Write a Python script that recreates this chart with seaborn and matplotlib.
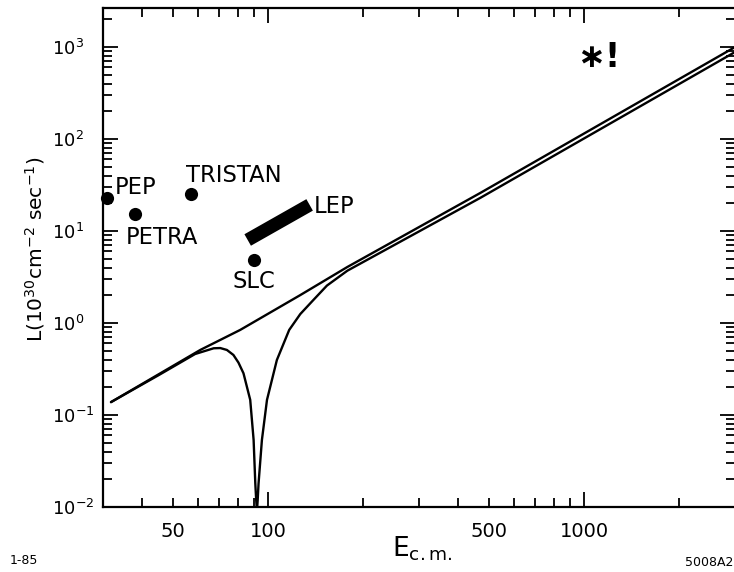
import numpy as np
import pandas as pd
import matplotlib
matplotlib.use("Agg")
import matplotlib.pyplot as plt
import seaborn as sns
from matplotlib.ticker import NullFormatter

# ---------------- data ----------------
E_upper = [31.8, 61, 81.5, 126, 178, 469, 2966]
L_upper = [0.138, 0.51, 0.84, 2.0, 4.06, 25.9, 975]

E_lower = [31.8, 45, 58.7, 67.2, 70.5, 74.0, 77.6, 80.5, 83.5, 87.7, 89.9, 91.0,
           91.6, 92.1, 92.6, 93.2, 95.5, 99.1, 106.5, 116.5, 126.3, 139, 153.4,
           178, 469, 2966]
L_lower = [0.138, 0.271, 0.46, 0.531, 0.534, 0.509, 0.449, 0.371, 0.284, 0.146,
           0.0535, 0.0182, 0.0119, 0.009, 0.0119, 0.0181, 0.0535, 0.146, 0.396,
           0.84, 1.25, 1.78, 2.55, 3.7, 22.9, 861]

machines = ["PEP", "PETRA", "TRISTAN", "SLC"]
E_machines = [30.9, 37.9, 56.9, 89.9]
L_machines = [22.9, 15.1, 25.2, 4.84]

E_lep = [86.1, 135.2]
L_lep = [7.98, 19.2]

x_major = [100, 1000]
x_major_labels = ["100", "1000"]
x_minor = [40, 50, 60, 70, 80, 90, 200, 300, 400, 500, 600, 700, 800, 900, 2000, 3000]
x_minor_labels = ["", "50", "", "", "", "", "", "", "", "500", "", "", "", "", "", ""]

y_major = [1e-2, 1e-1, 1e0, 1e1, 1e2, 1e3]
y_major_labels = [r"$\mathregular{10^{-2}}$", r"$\mathregular{10^{-1}}$",
                  r"$\mathregular{10^{0}}$", r"$\mathregular{10^{1}}$",
                  r"$\mathregular{10^{2}}$", r"$\mathregular{10^{3}}$"]

# label anchor positions (data coords)
label_E = {"PEP": 32.8, "PETRA": 35.3, "TRISTAN": 55.0, "SLC": 77.0, "LEP": 139.8}
label_L = {"PEP": 25.2, "PETRA": 7.22, "TRISTAN": 34.1, "SLC": 2.40, "LEP": 15.7}

# ---------------- style ----------------
sns.set_style("ticks", rc={"axes.edgecolor": "black", "text.color": "black",
                           "xtick.color": "black", "ytick.color": "black",
                           "axes.labelcolor": "black"})
plt.rcParams["font.family"] = ["DejaVu Sans"]
plt.rcParams["mathtext.default"] = "regular"

fig = plt.figure(figsize=(7.34, 5.72), dpi=100)
ax = fig.add_axes([103 / 734, 65 / 572, 632 / 734, 499 / 572])

upper_df = pd.DataFrame({"E": E_upper, "L": L_upper})
lower_df = pd.DataFrame({"E": E_lower, "L": L_lower})
mach_df = pd.DataFrame({"E": E_machines, "L": L_machines, "name": machines})
lep_df = pd.DataFrame({"E": E_lep, "L": L_lep})

sns.lineplot(data=upper_df, x="E", y="L", ax=ax, color="black", lw=1.7,
             sort=False, estimator=None)
sns.lineplot(data=lower_df, x="E", y="L", ax=ax, color="black", lw=1.7,
             sort=False, estimator=None)
sns.lineplot(data=lep_df, x="E", y="L", ax=ax, color="black", lw=9.5,
             sort=False, estimator=None, solid_capstyle="butt")
sns.scatterplot(data=mach_df, x="E", y="L", ax=ax, color="black", s=90,
                edgecolor="black", linewidth=0, clip_on=False, zorder=5)

ax.set_xscale("log")
ax.set_yscale("log")

ax.set_xticks(x_major)
ax.set_xticklabels(x_major_labels)
ax.set_xticks(x_minor, minor=True)
ax.set_xticklabels(x_minor_labels, minor=True)

ax.set_yticks(y_major)
ax.set_yticklabels(y_major_labels)
y_minor = [m * 10.0 ** d for d in range(-2, 4) for m in range(2, 10)]
ax.set_yticks(y_minor, minor=True)
ax.yaxis.set_minor_formatter(NullFormatter())
ax.set_ylim(0.01, 2650)
ax.set_xlim(30, 3000)

ax.tick_params(which="both", direction="in", top=True, right=True,
               width=1.3, color="black")
ax.tick_params(which="major", length=10.5)
ax.tick_params(which="minor", length=6.5)
ax.tick_params(axis="x", which="both", labelsize=14, pad=11)
ax.tick_params(axis="y", which="major", labelsize=13, pad=37)
for lab in ax.get_yticklabels():
    lab.set_horizontalalignment("left")

for s in ax.spines.values():
    s.set_linewidth(1.6)
    s.set_color("black")
ax.spines["right"].set_visible(False)

ax.set_xlabel(r"$\mathregular{E_{c{.}m{.}}}$", fontsize=19, va="top")
ax.xaxis.set_label_coords(0.505, -0.055)
ax.set_ylabel(r"$\mathregular{L(10^{30}cm^{-2}\ sec^{-1})}$", fontsize=14.5, va="center")
ax.yaxis.set_label_coords(-0.107, 0.517)

for name in ["PEP", "PETRA", "TRISTAN", "SLC", "LEP"]:
    ax.text(label_E[name], label_L[name], name, fontsize=16.3, ha="left",
            va="baseline")

ax.text(951, 607, "\u2217!", fontsize=24, fontweight="bold", ha="left",
        va="baseline")

fig.text(10 / 734, 1 - 560 / 572, "1-85", fontsize=9, ha="left", va="center")
fig.text(733 / 734, 1 - 562 / 572, "5008A2", fontsize=9, ha="right", va="center")

fig.savefig("out.png", dpi=100)
